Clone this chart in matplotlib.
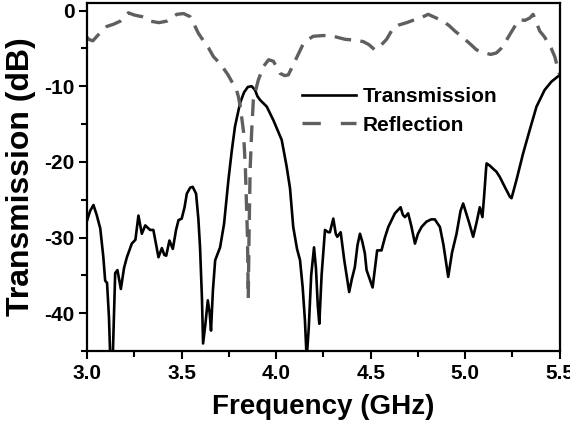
import matplotlib
matplotlib.use("Agg")
import matplotlib.pyplot as plt
from matplotlib.lines import Line2D
from matplotlib.ticker import MultipleLocator

plt.rcParams['font.family'] = ['Liberation Sans', 'DejaVu Sans']
plt.rcParams['font.weight'] = 'bold'
plt.rcParams['axes.unicode_minus'] = False

# transmission (solid black)
freq_t = [3.000, 3.015, 3.033, 3.050, 3.069, 3.085, 3.095, 3.105, 3.115, 3.122,
          3.135, 3.148, 3.160, 3.178, 3.195, 3.210, 3.236, 3.255, 3.271, 3.289,
          3.307, 3.333, 3.350, 3.365, 3.377, 3.395, 3.408, 3.418, 3.435, 3.453,
          3.470, 3.483, 3.500, 3.515, 3.527, 3.545, 3.558, 3.576, 3.588, 3.597,
          3.607, 3.613, 3.625, 3.638, 3.648, 3.655, 3.665, 3.677, 3.703, 3.724,
          3.747, 3.765, 3.782, 3.809, 3.830, 3.850, 3.870, 3.888, 3.900, 3.914,
          3.950, 3.985, 4.029, 4.055, 4.073, 4.090, 4.110, 4.126, 4.140, 4.152,
          4.161, 4.172, 4.185, 4.200, 4.210, 4.220, 4.228, 4.240, 4.258, 4.275,
          4.284, 4.302, 4.315, 4.323, 4.341, 4.360, 4.386, 4.400, 4.416, 4.430,
          4.443, 4.455, 4.469, 4.478, 4.495, 4.510, 4.534, 4.557, 4.575, 4.593,
          4.628, 4.658, 4.670, 4.681, 4.698, 4.715, 4.734, 4.750, 4.769, 4.795,
          4.820, 4.839, 4.866, 4.885, 4.910, 4.930, 4.954, 4.975, 4.989, 5.000,
          5.020, 5.042, 5.060, 5.077, 5.091, 5.100, 5.110, 5.113, 5.130, 5.147,
          5.165, 5.183, 5.209, 5.236, 5.245, 5.271, 5.306, 5.341, 5.377, 5.420,
          5.456, 5.491, 5.500]
trans = [-27.7, -26.5, -25.7, -27.0, -28.8, -32.5, -35.7, -36.0, -40.5, -46.0,
         -46.0, -34.7, -34.3, -36.8, -34.0, -32.6, -30.8, -30.3, -27.1, -29.5,
         -28.4, -29.0, -29.0, -31.0, -32.6, -31.4, -32.3, -32.4, -30.4, -31.5,
         -29.0, -27.7, -27.5, -26.0, -24.2, -23.4, -23.3, -24.2, -27.5, -31.3,
         -38.0, -44.0, -41.5, -38.3, -40.0, -42.3, -37.0, -33.0, -31.3, -28.2,
         -22.4, -18.5, -15.3, -12.2, -10.8, -10.1, -10.0, -10.5, -11.3, -11.8,
         -12.7, -14.5, -17.1, -20.6, -23.5, -28.6, -31.5, -33.0, -36.6, -41.0,
         -46.0, -42.0, -35.0, -31.3, -34.0, -39.0, -41.4, -35.0, -29.0, -29.3,
         -29.3, -27.5, -29.5, -29.9, -29.3, -33.0, -37.2, -35.5, -33.9, -31.0,
         -29.5, -30.5, -32.1, -34.3, -35.5, -36.6, -31.7, -31.7, -30.0, -28.6,
         -26.8, -26.0, -27.0, -27.3, -26.8, -28.5, -30.8, -29.5, -28.6, -27.9,
         -27.6, -27.6, -28.6, -31.0, -35.2, -32.0, -29.5, -26.5, -25.5, -26.4,
         -28.0, -29.9, -28.0, -26.0, -27.3, -24.5, -21.0, -20.2, -20.5, -20.9,
         -21.3, -22.0, -23.3, -24.6, -24.8, -22.4, -18.9, -15.8, -12.7, -10.5,
         -9.4, -8.7, -8.5]

# reflection (grey dashed)
freq_r = [3.000, 3.007, 3.030, 3.055, 3.078, 3.104, 3.140, 3.175, 3.200, 3.218,
          3.250, 3.289, 3.310, 3.333, 3.380, 3.421, 3.450, 3.474, 3.510, 3.544,
          3.565, 3.588, 3.615, 3.641, 3.668, 3.695, 3.720, 3.745, 3.765, 3.790,
          3.800, 3.810, 3.827, 3.837, 3.848, 3.852, 3.856, 3.862, 3.870, 3.879,
          3.905, 3.932, 3.960, 3.985, 4.020, 4.045, 4.064, 4.099, 4.143, 4.170,
          4.196, 4.250, 4.302, 4.364, 4.410, 4.460, 4.490, 4.522, 4.550, 4.584,
          4.619, 4.650, 4.690, 4.734, 4.770, 4.804, 4.848, 4.883, 4.915, 4.945,
          4.989, 5.030, 5.060, 5.104, 5.135, 5.165, 5.190, 5.209, 5.240, 5.262,
          5.289, 5.315, 5.341, 5.359, 5.375, 5.394, 5.420, 5.438, 5.455, 5.474,
          5.491, 5.500]
refl = [-3.5, -3.8, -4.0, -3.3, -2.7, -2.1, -1.8, -1.4, -0.8, -0.3,
        -0.6, -0.8, -1.0, -1.4, -1.6, -1.4, -0.9, -0.5, -0.4, -0.8,
        -1.8, -3.0, -4.0, -4.9, -6.1, -6.8, -7.6, -8.5, -9.4, -10.5,
        -11.4, -12.7, -16.0, -21.0, -30.0, -38.0, -30.0, -21.0, -16.0, -11.8,
        -9.2, -7.4, -6.5, -6.7, -8.3, -8.6, -8.5, -6.7, -4.4, -3.8,
        -3.4, -3.3, -3.4, -3.8, -3.9, -4.1, -4.5, -5.2, -4.7, -3.8,
        -2.3, -1.9, -1.6, -1.2, -0.9, -0.5, -1.0, -1.4, -2.0, -2.7,
        -3.6, -4.5, -5.2, -5.6, -5.8, -5.6, -5.0, -4.3, -3.0, -2.1,
        -1.2, -1.3, -1.0, -0.5, -1.5, -2.7, -3.5, -4.3, -5.0, -6.1,
        -7.8, -8.5]

fig = plt.figure(figsize=(5.7, 4.26), dpi=100)
ax = fig.add_axes([0.153, 0.176, 0.829, 0.817])

ax.plot(freq_t, trans, color='black', lw=1.9)
ax.plot(freq_r, refl, color='#5f5f5f', lw=2.4, dashes=(5, 2.8))

ax.set_xlim(3.0, 5.5)
ax.set_ylim(-45, 1)
ax.xaxis.set_major_locator(MultipleLocator(0.5))
ax.xaxis.set_minor_locator(MultipleLocator(0.25))
ax.yaxis.set_major_locator(MultipleLocator(10))
ax.yaxis.set_minor_locator(MultipleLocator(5))
ax.xaxis.set_major_formatter(plt.FormatStrFormatter('%.1f'))

ax.tick_params(which='major', direction='out', length=6, width=1.5, labelsize=15, pad=3)
ax.tick_params(which='minor', direction='out', length=4, width=1.5)
for s in ax.spines.values():
    s.set_linewidth(1.6)

ax.set_xlabel('Frequency (GHz)', fontsize=20, fontweight='bold', labelpad=8)
ax.set_ylabel('Transmission (dB)', fontsize=23, fontweight='bold', labelpad=6)

handles = [Line2D([], [], color='black', lw=1.9),
           Line2D([], [], color='#5f5f5f', lw=2.4, dashes=(5.5, 6))]
ax.legend(handles, ['Transmission', 'Reflection'], loc='upper left',
          bbox_to_anchor=(0.415, 0.812), frameon=False, fontsize=15,
          handlelength=2.6, handletextpad=0.3, labelspacing=0.45)

fig.savefig('out.png', dpi=100)
